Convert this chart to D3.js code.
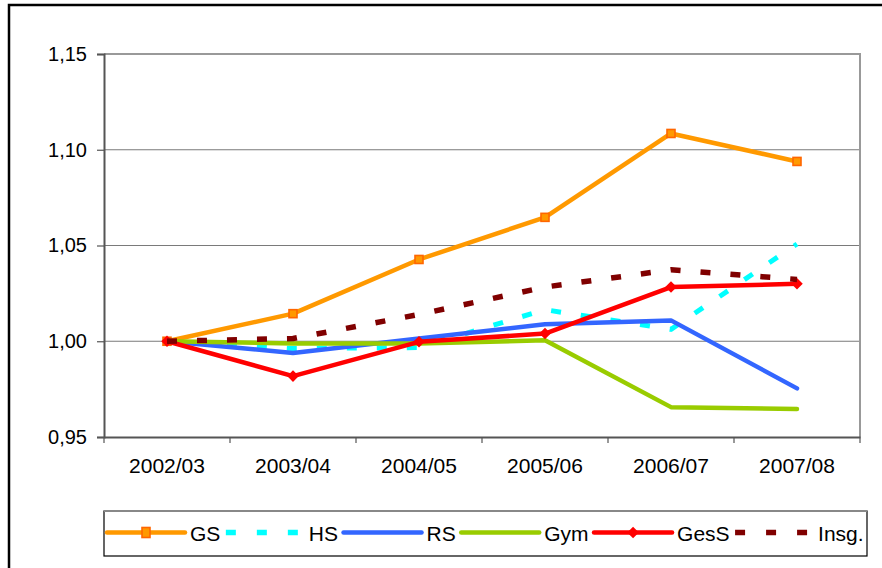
<!DOCTYPE html>
<html>
<head>
<meta charset="utf-8">
<script src="https://cdn.jsdelivr.net/npm/d3@7"></script>
<style>
  body { margin: 0; background: #fff; }
  svg { display: block; font-family: "Liberation Sans", Arial, sans-serif; }
</style>
</head>
<body>
<div id="chart"></div>
<script>
// data
const years = ["2002/03", "2003/04", "2004/05", "2005/06", "2006/07", "2007/08"];
const yTicks = [0.95, 1.00, 1.05, 1.10, 1.15];

const gs   = [1.000, 1.0144, 1.0427, 1.0647, 1.1085, 1.0939];
const hs   = [1.000, 0.9962, 0.9967, 1.0165, 1.0062, 1.0508];
const rs   = [1.000, 0.9939, 1.0014, 1.0089, 1.0109, 0.9754];
const gym  = [1.000, 0.9988, 0.9988, 1.0005, 0.9656, 0.9646];
const gess = [1.000, 0.9818, 0.9997, 1.0040, 1.0283, 1.0300];
const insg = [1.000, 1.0014, 1.0140, 1.0283, 1.0373, 1.0323];

const seriesNames = ["GS", "HS", "RS", "Gym", "GesS", "Insg."];
const seriesValues = [gs, hs, rs, gym, gess, insg];

// styles per series
const styles = [
  {color: "#FF9900", width: 4.5, dash: null, marker: "square"},
  {color: "#00FFFF", width: 5, dash: "10,20", marker: null},
  {color: "#3366FF", width: 4.5, dash: null, marker: null},
  {color: "#99CC00", width: 4.5, dash: null, marker: null},
  {color: "#FF0000", width: 4.5, dash: null, marker: "diamond"},
  {color: "#800000", width: 5.5, dash: "10,20", marker: null}
];

const W = 882, H = 568;
const plot = {left: 104, right: 860, top: 54, bottom: 437};

const svg = d3.select("#chart").append("svg")
  .attr("width", W).attr("height", H);

svg.append("rect").attr("width", W).attr("height", H).attr("fill", "#fff");

// outer frame (runs off the right and bottom edges)
svg.append("rect")
  .attr("x", 9).attr("y", 5)
  .attr("width", W + 20).attr("height", H + 20)
  .attr("fill", "none").attr("stroke", "#000").attr("stroke-width", 2.5);

const x = d3.scaleBand().domain(years).range([plot.left, plot.right]);
const y = d3.scaleLinear().domain([0.95, 1.15]).range([plot.bottom, plot.top]);
const cx = d => x(d) + x.bandwidth() / 2;

const de = d3.formatLocale({decimal: ",", thousands: ".", grouping: [3], currency: ["", " €"]});
const fmt = de.format(".2f");

// gridlines
svg.append("g").selectAll("line")
  .data(yTicks.slice(1))
  .join("line")
  .attr("x1", plot.left).attr("x2", plot.right)
  .attr("y1", d => y(d)).attr("y2", d => y(d))
  .attr("stroke", "#7a7a7a").attr("stroke-width", 1.2);

// plot frame top/right
svg.append("path")
  .attr("d", `M${plot.left},${plot.top}H${plot.right}V${plot.bottom}`)
  .attr("fill", "none").attr("stroke", "#999").attr("stroke-width", 2);

// y axis
const yAxis = svg.append("g")
  .attr("transform", `translate(${plot.left},0)`)
  .call(d3.axisLeft(y).tickValues(yTicks).tickFormat(fmt).tickSize(7).tickPadding(10));
yAxis.select(".domain").attr("stroke", "#555").attr("stroke-width", 2);
yAxis.selectAll(".tick line").attr("stroke", "#555").attr("stroke-width", 1.2);
yAxis.selectAll("text").attr("font-size", 20).attr("fill", "#000")
  .attr("font-family", "Liberation Sans, Arial, sans-serif");

// x axis: labels at centers, ticks on band boundaries
const xAxis = svg.append("g")
  .attr("transform", `translate(0,${plot.bottom})`)
  .call(d3.axisBottom(x).tickSize(0).tickPadding(21).tickSizeOuter(0));
xAxis.select(".domain").attr("stroke", "#555").attr("stroke-width", 2);
xAxis.selectAll("text").attr("font-size", 21).attr("fill", "#000")
  .attr("font-family", "Liberation Sans, Arial, sans-serif");

const bounds = years.map(d => x(d)).concat([x(years[years.length - 1]) + x.bandwidth()]);
svg.append("g").selectAll("line")
  .data(bounds)
  .join("line")
  .attr("x1", d => d).attr("x2", d => d)
  .attr("y1", plot.bottom).attr("y2", plot.bottom + 6)
  .attr("stroke", "#555").attr("stroke-width", 1.2);

// series lines
const line = d3.line()
  .x((d, i) => cx(years[i]))
  .y(d => y(d));

const lines = svg.append("g");
seriesValues.forEach((vals, k) => {
  const st = styles[k];
  lines.append("path")
    .datum(vals)
    .attr("d", line)
    .attr("fill", "none")
    .attr("stroke", st.color)
    .attr("stroke-width", st.width)
    .attr("stroke-linejoin", "round")
    .attr("stroke-linecap", st.dash ? "butt" : "round")
    .attr("stroke-dasharray", st.dash);

  if (st.marker === "square") {
    lines.append("g").selectAll("rect")
      .data(vals)
      .join("rect")
      .attr("x", (d, i) => cx(years[i]) - 4)
      .attr("y", d => y(d) - 4)
      .attr("width", 8).attr("height", 8)
      .attr("fill", st.color).attr("stroke", "#FF6600").attr("stroke-width", 1.6);
  } else if (st.marker === "diamond") {
    lines.append("g").selectAll("path")
      .data(vals)
      .join("path")
      .attr("d", d3.symbol(d3.symbolDiamond2, 85))
      .attr("transform", (d, i) => `translate(${cx(years[i])},${y(d)})`)
      .attr("fill", st.color);
  }
});

// legend
const legend = svg.append("g");
legend.append("rect")
  .attr("x", 104).attr("y", 511).attr("width", 763).attr("height", 45)
  .attr("fill", "#fff").attr("stroke", "#000").attr("stroke-width", 1.2);
legend.append("line")
  .attr("x1", 104).attr("x2", 867).attr("y1", 511).attr("y2", 511)
  .attr("stroke", "#888").attr("stroke-width", 2);

const ly = 532.5;
let lx = 107;
seriesNames.forEach((name, k) => {
  const st = styles[k];
  legend.append("line")
    .attr("x1", lx).attr("x2", lx + 78)
    .attr("y1", ly).attr("y2", ly)
    .attr("stroke", st.color)
    .attr("stroke-width", st.dash ? 5.5 : 4.5)
    .attr("stroke-linecap", st.dash ? "butt" : "round")
    .attr("stroke-dasharray", st.dash ? "10,21" : null);
  if (st.marker === "square") {
    legend.append("rect")
      .attr("x", lx + 39 - 4).attr("y", ly - 5).attr("width", 8).attr("height", 10)
      .attr("fill", st.color).attr("stroke", "#FF6600").attr("stroke-width", 1.6);
  } else if (st.marker === "diamond") {
    legend.append("path")
      .attr("d", d3.symbol(d3.symbolDiamond2, 85))
      .attr("transform", `translate(${lx + 39},${ly})`)
      .attr("fill", st.color);
  }
  const t = legend.append("text")
    .attr("x", lx + 83).attr("y", ly + 8)
    .attr("font-size", 21).attr("fill", "#000")
    .text(name);
  lx = lx + 88.5 + t.node().getComputedTextLength();
});
</script>
</body>
</html>
